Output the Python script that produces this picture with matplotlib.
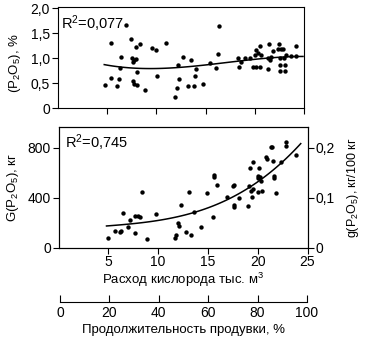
import numpy as np
import matplotlib
matplotlib.use("Agg")
import matplotlib.pyplot as plt

plt.rcParams['font.family'] = ['Liberation Sans', 'DejaVu Sans']
plt.rcParams['mathtext.fontset'] = 'custom'
plt.rcParams['mathtext.rm'] = 'Liberation Sans'
plt.rcParams['mathtext.it'] = 'Liberation Sans'
plt.rcParams['mathtext.bf'] = 'Liberation Sans'

# ---- top panel: P2O5 in slag, % ----
top_x = [6.92, 5.37, 7.40, 7.90, 8.34, 9.59, 9.93, 10.98, 6.38, 7.50, 7.77, 7.90, 7.60,
         6.31, 8.00, 10.03, 5.40, 6.21, 4.79, 5.97, 7.60, 7.77, 8.00, 8.85, 12.74, 13.51,
         12.23, 14.02, 13.92, 12.33, 12.06, 11.89, 13.18, 13.85, 14.76,
         16.10, 15.44, 16.28, 16.35,
         18.31, 18.41, 18.65, 19.00, 19.50, 19.83, 20.17, 20.50, 20.00, 20.17, 20.50, 20.34,
         20.68, 21.36, 21.36, 21.53, 21.70, 21.46, 21.87, 22.47, 22.37, 22.71, 22.88, 22.54,
         22.95, 22.54, 23.05, 22.54, 23.08, 23.22, 23.72, 24.16, 24.23]
top_y = [1.67, 1.31, 1.38, 1.23, 1.28, 1.21, 1.16, 1.30, 1.02, 1.01, 0.96, 0.98, 0.93,
         0.81, 0.73, 0.64, 0.61, 0.59, 0.46, 0.44, 0.54, 0.49, 0.47, 0.36, 1.03, 0.96,
         0.86, 0.79, 0.64, 0.59, 0.41, 0.22, 0.44, 0.44, 0.48,
         0.81, 0.91, 1.08, 1.65,
         1.00, 0.83, 0.93, 1.00, 1.00, 0.83, 0.83, 0.83, 1.06, 1.16, 1.25, 1.10,
         1.06, 0.79, 1.01, 0.96, 1.03, 1.28, 1.14, 1.28, 1.18, 1.18, 1.18, 1.00,
         1.00, 0.86, 0.86, 0.74, 0.74, 1.06, 1.05, 1.05, 1.24]
top_trend_x = [4.72, 8.85, 10.88, 14.43, 16.45, 18.82, 21.19, 24.90]
top_trend_y = [0.87, 0.80, 0.80, 0.84, 0.90, 0.96, 1.00, 1.035]
top_r2 = "R$^2$=0,077"

# ---- bottom panel: G(P2O5), kg ----
bot_x = [4.92, 5.72, 6.15, 6.32, 6.48, 6.98, 7.15, 7.65, 7.98, 8.15, 7.72, 8.38, 8.88, 9.82,
         11.65, 11.82, 11.98, 12.05, 12.32, 12.82, 13.08, 13.32, 13.58, 14.32, 15.48, 14.88,
         15.65, 15.65, 15.88, 16.88, 17.48, 17.65, 17.62, 17.60, 18.08, 18.98, 19.15, 19.32,
         19.48, 19.25, 19.48, 20.15, 19.42, 19.98, 20.08, 20.25, 20.32, 20.08, 20.48, 20.82,
         20.98, 21.32, 21.42, 21.55, 21.65, 21.65, 21.88, 22.32, 22.82, 22.88, 23.82]
bot_y = [78, 136, 123, 136, 277, 163, 224, 251, 251, 243, 117, 443, 69, 269,
         75, 101, 197, 171, 341, 123, 448, 104, 288, 168, 248, 435,
         581, 563, 504, 408, 496, 504, 341, 328, 395, 331, 491, 456,
         469, 637, 688, 637, 403, 576, 555, 563, 531, 443, 456, 723,
         709, 808, 803, 696, 576, 555, 437, 688, 843, 816, 744]
bot_trend_x = [4.82, 9.48, 12.82, 15.82, 19.15, 20.82, 23.15, 24.32]
bot_trend_y = [172, 212, 260, 340, 486, 580, 714, 843]
bot_r2 = "R$^2$=0,745"

x_ticks = [5, 10, 15, 20, 25]
top_yticks = [0, 0.5, 1.0, 1.5, 2.0]
top_yticklabels = ["0", "0,5", "1,0", "1,5", "2,0"]
bot_yticks = [0, 400, 800]
right_ticks = [0, 0.1, 0.2]
right_ticklabels = ["0", "0,1", "0,2"]
dur_ticks = [0, 20, 40, 60, 80, 100]

W, H = 367, 352
fig = plt.figure(figsize=(W / 100, H / 100), dpi=100)

def box(l, t, r, b):
    return [l / W, 1 - b / H, (r - l) / W, (b - t) / H]

tick_kw = dict(direction='out', length=4, width=0.8, labelsize=10, pad=1.5, colors='black')

# top axes
ax1 = fig.add_axes(box(57.75, 7, 304, 108))
ax1.scatter(top_x, top_y, s=10, c='black', marker='o', linewidths=0)
c1 = np.polyfit(top_trend_x, top_trend_y, 3)
xx1 = np.linspace(top_trend_x[0], top_trend_x[-1], 100)
ax1.plot(xx1, np.polyval(c1, xx1), color='black', lw=1.1)
ax1.set_xlim(0, 25)
ax1.set_ylim(0, 2.03)
ax1.set_xticks(x_ticks)
ax1.set_xticklabels([])
ax1.set_yticks(top_yticks)
ax1.set_yticklabels(top_yticklabels)
ax1.tick_params(**tick_kw)
ax1.text(0.012, 0.83, top_r2, transform=ax1.transAxes, fontsize=10.5, va='center', ha='left')
ax1.set_ylabel("(P$_2$O$_5$), %", fontsize=9.5)
ax1.yaxis.set_label_coords(-0.14, 0.45)
for s in ax1.spines.values():
    s.set_linewidth(0.8)

# bottom axes
ax2 = fig.add_axes(box(58.5, 127, 307.5, 247.5))
ax2.scatter(bot_x, bot_y, s=10, c='black', marker='o', linewidths=0)
c2 = np.polyfit(bot_trend_x, bot_trend_y, 3)
xx2 = np.linspace(bot_trend_x[0], bot_trend_x[-1], 100)
ax2.plot(xx2, np.polyval(c2, xx2), color='black', lw=1.1)
ax2.set_xlim(0, 25)
ax2.set_ylim(0, 964)
ax2.set_xticks(x_ticks)
ax2.set_yticks(bot_yticks)
ax2.tick_params(**tick_kw)
ax2.text(0.025, 0.87, bot_r2, transform=ax2.transAxes, fontsize=10.5, va='center', ha='left')
ax2.set_ylabel("G(P$_2$O$_5$), кг", fontsize=9.5)
ax2.yaxis.set_label_coords(-0.152, 0.5)
ax2.set_xlabel("Расход кислорода тыс. м$^3$", fontsize=9.5, labelpad=1)
for s in ax2.spines.values():
    s.set_linewidth(0.8)

ax3 = ax2.twinx()
ax3.set_ylim(0, 964 / 4000)
ax3.set_yticks(right_ticks)
ax3.set_yticklabels(right_ticklabels)
ax3.tick_params(**tick_kw)
ax3.set_ylabel("g(P$_2$O$_5$), кг/100 кг", fontsize=9, rotation=90)
ax3.yaxis.set_label_coords(1.152, 0.5)
for s in ax3.spines.values():
    s.set_linewidth(0.8)

# duration axis
ax4 = fig.add_axes(box(60, 297, 307, 302))
ax4.set_xlim(0, 100)
ax4.set_yticks([])
for k in ['left', 'right', 'top']:
    ax4.spines[k].set_visible(False)
ax4.spines['bottom'].set_linewidth(0.8)
ax4.patch.set_visible(False)
ax4.set_xticks(dur_ticks)
ax4.tick_params(axis='x', direction='in', length=5, width=0.8, labelsize=10, pad=3)
ax4.set_xlabel("Продолжительность продувки, %", fontsize=9.5, labelpad=3)

fig.savefig("out.png", dpi=100)
